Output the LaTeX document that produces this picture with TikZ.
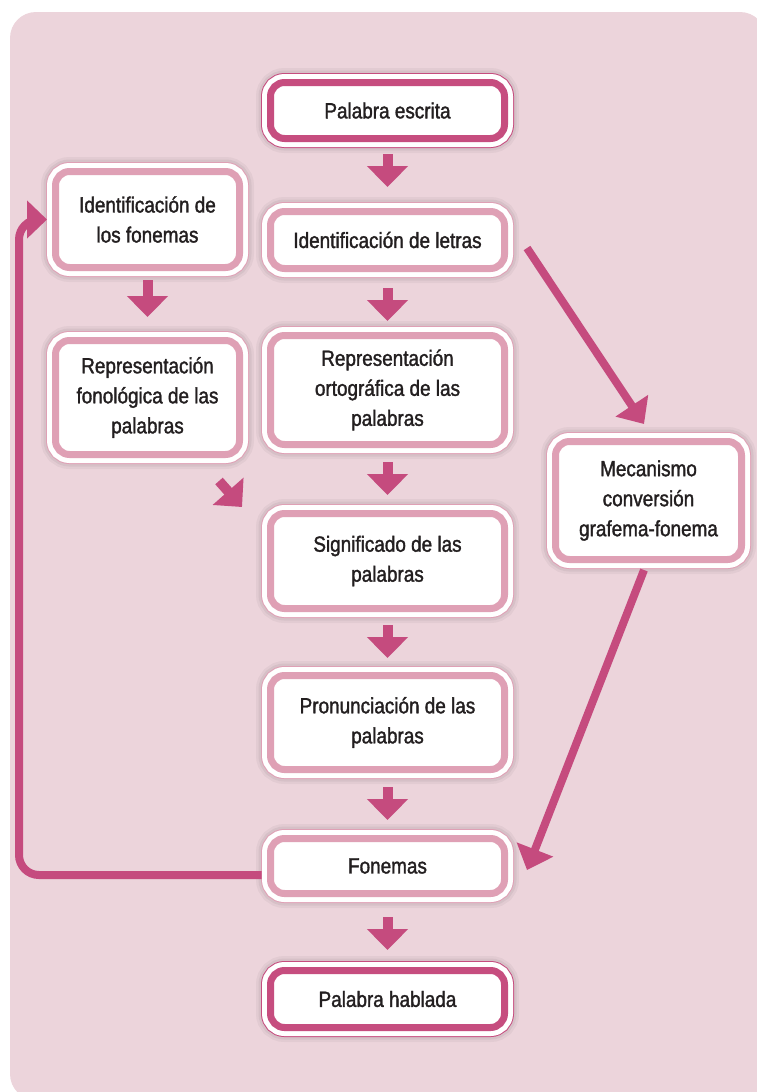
\documentclass[tikz,border=0pt]{standalone}
\usepackage{fontspec}
\setmainfont{Liberation Sans}[FakeStretch=0.86,FakeBold=1.5]
\usetikzlibrary{arrows.meta}
\definecolor{bgpink}{HTML}{ECD4DB}
\definecolor{ringdk}{HTML}{C64D7F}
\definecolor{ringlt}{HTML}{DFA0B5}
\definecolor{arr}{HTML}{C54B7E}
\definecolor{txt}{HTML}{231F20}
\tikzset{
  box/.style={draw=#1, line width=7pt, fill=white, rounded corners=14pt,
    inner sep=0pt, outer sep=0pt, align=center, text=txt,
    preaction={draw=black, draw opacity=0.04, line width=29pt},
    preaction={draw=black, draw opacity=0.05, line width=24pt},
    preaction={draw=#1, line width=19pt},
    preaction={draw=white, line width=17pt}},
  box/.default=ringlt,
  mainbox/.style={box=#1, minimum width=234pt},
  mainbox/.default=ringlt,
  sidebox/.style={box, minimum width=184pt},
  dnarrow/.style={draw=arr, line width=10pt, -{Triangle[width=40pt,length=21pt]}},
  longarrow/.style={draw=arr, line width=8pt, -{Triangle[width=38pt,length=22pt]}},
}
\begin{document}
\begin{tikzpicture}[x=1pt,y=-1pt,font=\fontsize{22}{30}\selectfont]
\useasboundingbox (0,0) rectangle (756,1092);
\fill[bgpink,rounded corners=26pt] (10,12) rectangle (766,1100);
% middle column
\node[mainbox=ringdk, minimum height=56pt] (escrita) at (387.5,110.5) {Palabra escrita};
\node[mainbox, minimum height=57pt] (letras) at (387.5,240) {Identificaci\'on de letras};
\node[mainbox, minimum height=109pt] (orto) at (387.5,390) {Representaci\'on\\ortogr\'afica de las\\palabras};
\node[mainbox, minimum height=95pt] (signif) at (387.5,561) {Significado de las\\palabras};
\node[mainbox, minimum height=94pt] (pron) at (387.5,722.5) {Pronunciaci\'on de las\\palabras};
\node[mainbox, minimum height=55pt] (fonemas) at (387.5,866) {Fonemas};
\node[mainbox=ringdk, minimum height=57pt] (hablada) at (387.5,999) {Palabra hablada};
% left column
\node[sidebox, minimum height=96pt] (idfon) at (147.5,219.5) {Identificaci\'on de\\los fonemas};
\node[sidebox, minimum height=114pt] (fono) at (147.5,397.5) {Representaci\'on\\fonol\'ogica de las\\palabras};
% right
\node[box, minimum width=186pt, minimum height=118pt] (mec) at (648.5,500.5) {Mecanismo\\conversi\'on\\grafema-fonema};
% arrows
\draw[dnarrow] ([yshift=-15.5pt]escrita.south) -- ([yshift=24.5pt]letras.north);
\draw[dnarrow] ([yshift=-19.5pt]letras.south) -- ([yshift=14.5pt]orto.north);
\draw[dnarrow] ([yshift=-17.5pt]orto.south) -- ([yshift=18.5pt]signif.north);
\draw[dnarrow] ([yshift=-16.5pt]signif.south) -- ([yshift=17.5pt]pron.north);
\draw[dnarrow] ([yshift=-17.5pt]pron.south) -- ([yshift=18.5pt]fonemas.north);
\draw[dnarrow] ([yshift=-23.5pt]fonemas.south) -- ([yshift=20.5pt]hablada.north);
\draw[dnarrow] ([yshift=-12.5pt]idfon.south) -- ([yshift=23.5pt]fono.north);
\draw[dnarrow] ([shift={(-20.5pt,-26.5pt)}]fono.south east) -- ([shift={(-28.5pt,6.5pt)}]signif.north west);
\draw[longarrow] ([shift={(22.5pt,-8pt)}]letras.east) -- ([shift={(-4.5pt,17.5pt)}]mec.north);
\draw[longarrow] ([shift={(-4.5pt,-10.5pt)}]mec.south) -- ([shift={(22.5pt,-4pt)}]fonemas.east);
% back to the fonemes
\coordinate (lx) at (19,0);
\coordinate (lb) at ([shift={(-9pt,-9pt)}]fonemas.west);
\draw[draw=arr, line width=8pt, rounded corners=20pt, -{Triangle[width=37pt,length=20pt]}]
  (lb) -- (lb -| lx) -- (lx |- idfon.west) -- ([xshift=-8.5pt]idfon.west);
\end{tikzpicture}
\end{document}
